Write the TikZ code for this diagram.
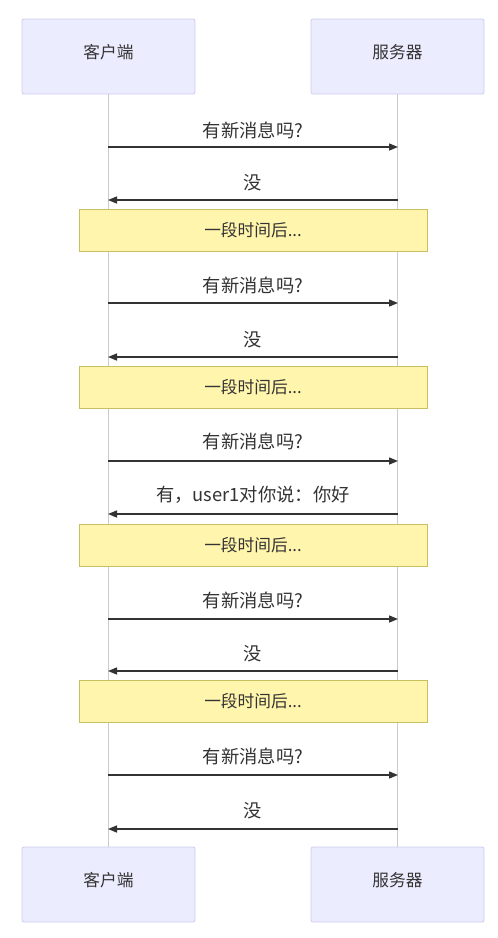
\documentclass[tikz,border=0pt]{standalone}
\usepackage{fontspec}
\setmainfont{Noto Sans CJK SC}
\usetikzlibrary{arrows.meta}
\definecolor{actfill}{HTML}{ECECFF}
\definecolor{actdraw}{HTML}{CCCCEE}
\definecolor{notefill}{HTML}{FFF5AD}
\definecolor{notedraw}{HTML}{C8C060}
\definecolor{ink}{HTML}{333333}
\definecolor{life}{HTML}{CCCCCC}
\tikzset{
  actor/.style={draw=actdraw, fill=actfill, rounded corners=2pt, line width=0.8pt,
    minimum width=173pt, minimum height=75pt, inner sep=0pt},
  actortext/.style={font=\fontsize{16.7}{19}\selectfont, text=ink, inner sep=0pt},
  notebox/.style={draw=notedraw, fill=notefill, line width=0.8pt,
    minimum width=348pt, minimum height=42pt, inner sep=0pt,
    font=\fontsize{16.7}{19}\selectfont, text=ink},
  lifeline/.style={draw=life, line width=0.8pt},
  msg/.style={draw=ink, line width=1.4pt, -{Triangle[length=9pt,width=7pt]}},
  msglabel/.style={font=\fontsize{18.3}{21}\selectfont, text=ink, inner sep=0pt}
}
\begin{document}
\begin{tikzpicture}[x=1pt,y=-1pt]
\useasboundingbox (0,0) rectangle (498,938);
\fill[white] (0,0) rectangle (498,938);
% actors
\node[actor] (ct) at (108.5,56.5) {};
\node[actor] (st) at (397.5,56.5) {};
\node[actor] (cb) at (108.5,884.5) {};
\node[actor] (sb) at (397.5,884.5) {};
\node[actortext] (ctt) at (108.5,52) {客户端};
\node[actortext] (stt) at (397.5,52) {服务器};
\node[actortext] (cbt) at (108.5,880) {客户端};
\node[actortext] (sbt) at (397.5,880) {服务器};
% lifelines
\draw[lifeline] (ct.south) -- (cb.north);
\draw[lifeline] (st.south) -- (sb.north);
% coordinates on lifelines
\foreach \i/\y in {1/147,2/200,3/303,4/357,5/461,6/514,7/619,8/671,9/775,10/829}{
  \coordinate (c\i) at (108,\y);
  \coordinate (s\i) at (398,\y);
}
% messages
\draw[msg] (c1) -- (s1);
\node[msglabel] (l1) at (253,130) {有新消息吗?};
\draw[msg] (s2) -- (c2);
\node[msglabel] (l2) at (253,183) {没};
\node[notebox] (n1) at (253,230) {一段时间后...};
\draw[msg] (c3) -- (s3);
\node[msglabel] (l3) at (253,285) {有新消息吗?};
\draw[msg] (s4) -- (c4);
\node[msglabel] (l4) at (253,340) {没};
\node[notebox] (n2) at (253,387) {一段时间后...};
\draw[msg] (c5) -- (s5);
\node[msglabel] (l5) at (253,441) {有新消息吗?};
\draw[msg] (s6) -- (c6);
\node[msglabel] (l6) at (253,495) {有，user1对你说：你好};
\node[notebox] (n3) at (253,545) {一段时间后...};
\draw[msg] (c7) -- (s7);
\node[msglabel] (l7) at (253,600) {有新消息吗?};
\draw[msg] (s8) -- (c8);
\node[msglabel] (l8) at (253,654) {没};
\node[notebox] (n4) at (253,701) {一段时间后...};
\draw[msg] (c9) -- (s9);
\node[msglabel] (l9) at (253,756) {有新消息吗?};
\draw[msg] (s10) -- (c10);
\node[msglabel] (l10) at (253,811) {没};
\end{tikzpicture}
\end{document}
